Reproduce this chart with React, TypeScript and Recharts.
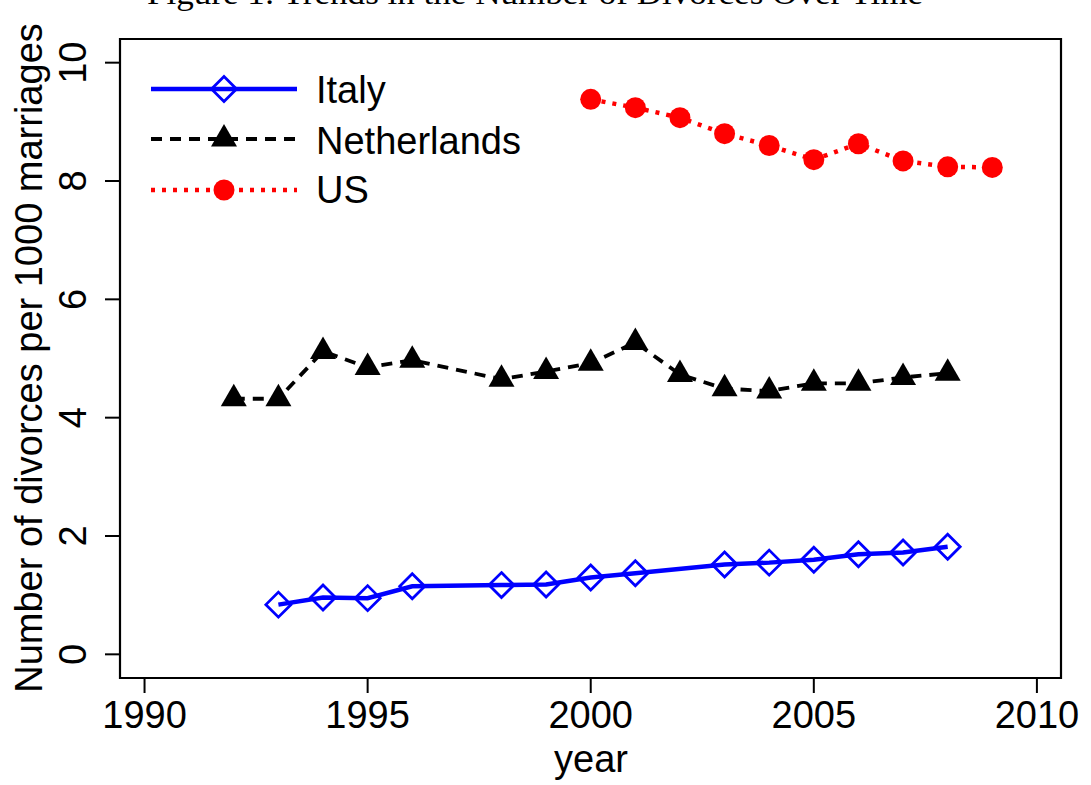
import React from "react"
import { Legend, Line, LineChart, ReferenceArea, XAxis, YAxis } from "recharts"

const years = [1992, 1993, 1994, 1995, 1996, 1997, 1998, 1999, 2000, 2001, 2002, 2003, 2004, 2005, 2006, 2007, 2008, 2009]
const italy = [null, 0.84, 0.96, 0.95, 1.15, null, 1.17, 1.18, 1.3, 1.37, null, 1.52, 1.55, 1.6, 1.69, 1.72, 1.82, null]
const netherlands = [4.32, 4.32, 5.12, 4.85, 4.97, null, 4.65, 4.78, 4.92, 5.27, 4.73, 4.49, 4.45, 4.58, 4.58, 4.68, 4.75, null]
const us = [null, null, null, null, null, null, null, null, 9.38, 9.24, 9.07, 8.8, 8.6, 8.36, 8.63, 8.34, 8.24, 8.23]

const xTicks = [1990, 1995, 2000, 2005, 2010]
const yTicks = [0, 2, 4, 6, 8, 10]

const chartData = years.map((year, i) => ({
  year,
  italy: italy[i],
  netherlands: netherlands[i],
  us: us[i],
}))

const X_DOMAIN = [1989.45, 2010.54]
const Y_DOMAIN = [-0.4, 10.4]

const SANS = "'Liberation Sans', Arial, Helvetica, sans-serif"
const SERIF = "'Liberation Serif', 'DejaVu Serif', serif"
const FS = 38

const BLUE = "#0000ff"
const RED = "#ff0000"

function diamond(cx: number, cy: number, key?: any) {
  const r = 12.5
  return (
    <path
      key={key}
      d={`M${cx},${cy - r}L${cx + r},${cy}L${cx},${cy + r}L${cx - r},${cy}Z`}
      fill="none"
      stroke={BLUE}
      strokeWidth={2.8}
    />
  )
}

function triangle(cx: number, cy: number, key?: any) {
  return (
    <path
      key={key}
      d={`M${cx},${cy - 15}L${cx + 13},${cy + 7.5}L${cx - 13},${cy + 7.5}Z`}
      fill="#000"
    />
  )
}

function circle(cx: number, cy: number, key?: any) {
  return <circle key={key} cx={cx} cy={cy} r={10.5} fill={RED} />
}

const makeDot = (shape: (cx: number, cy: number, key?: any) => React.ReactElement) => (props: any) => {
  const { cx, cy, index, value } = props
  if (value == null || cx == null || cy == null) return <g key={`e-${index}`} />
  return shape(cx, cy, `d-${index}`)
}

function YTick(props: any) {
  const { y, payload } = props
  return (
    <text
      x={86}
      y={y}
      transform={`rotate(-90 86 ${y})`}
      textAnchor="middle"
      fontSize={FS}
      fontFamily={SANS}
      fill="#000"
    >
      {payload.value}
    </text>
  )
}

function LegendBox() {
  const rows = [
    { label: "Italy", line: 29, base: 43, stroke: BLUE, dash: undefined, w: 4.5, mark: diamond },
    { label: "Netherlands", line: 79, base: 94, stroke: "#000", dash: "11 8", w: 3.8, mark: triangle },
    { label: "US", line: 130, base: 143, stroke: RED, dash: "4 7", w: 4.5, mark: circle },
  ]
  return (
    <svg width={420} height={160}>
      {rows.map((r) => (
        <g key={r.label}>
          <line x1={11} x2={157} y1={r.line} y2={r.line} stroke={r.stroke} strokeWidth={r.w} strokeDasharray={r.dash} />
          {r.mark(84, r.line)}
          <text x={176} y={r.base} fontSize={FS} fontFamily={SANS} fill="#000">
            {r.label}
          </text>
        </g>
      ))}
    </svg>
  )
}

export default function App() {
  return (
    <div style={{ position: "absolute", left: 0, top: 0, background: "#fff" }}>
      <LineChart width={1091} height={785} data={chartData} margin={{ top: 39, right: 30, bottom: 47, left: 60 }}>
        <XAxis
          dataKey="year"
          type="number"
          domain={X_DOMAIN}
          ticks={xTicks}
          allowDataOverflow
          height={60}
          tickSize={15}
          tickMargin={8}
          axisLine={false}
          tickLine={{ stroke: "#000", strokeWidth: 2 }}
          tick={{ fontSize: FS, fontFamily: SANS, fill: "#000" }}
          label={() => (
            <g>
              <text x={591} y={772} textAnchor="middle" fontSize={FS} fontFamily={SANS} fill="#000">
                year
              </text>
              <text
                x={535}
                y={4}
                textAnchor="middle"
                fontSize={32}
                fontFamily={SERIF}
                fill="#000"
                textLength={776}
                lengthAdjust="spacingAndGlyphs"
              >
                Figure 1: Trends in the Number of Divorces Over Time
              </text>
            </g>
          )}
        />
        <YAxis
          type="number"
          domain={Y_DOMAIN}
          ticks={yTicks}
          allowDataOverflow
          width={60}
          tickSize={15}
          axisLine={false}
          tickLine={{ stroke: "#000", strokeWidth: 2 }}
          tick={YTick}
          label={() => (
            <text
              x={42}
              y={358}
              transform="rotate(-90 42 358)"
              textAnchor="middle"
              fontSize={FS}
              fontFamily={SANS}
              fill="#000"
            >
              Number of divorces per 1000 marriages
            </text>
          )}
        />
        <ReferenceArea
          x1={X_DOMAIN[0]}
          x2={X_DOMAIN[1]}
          y1={Y_DOMAIN[0]}
          y2={Y_DOMAIN[1]}
          fill="none"
          fillOpacity={0}
          stroke="#000"
          strokeWidth={2.2}
          ifOverflow="visible"
        />
        <Legend
          layout="vertical"
          align="center"
          verticalAlign="middle"
          content={() => <LegendBox />}
          wrapperStyle={{ position: "absolute", left: 140, top: 60, width: 420, height: 160 }}
        />
        <Line
          dataKey="italy"
          stroke={BLUE}
          strokeWidth={4.5}
          connectNulls
          dot={makeDot(diamond)}
          activeDot={false}
          isAnimationActive={false}
        />
        <Line
          dataKey="netherlands"
          stroke="#000"
          strokeWidth={3.8}
          strokeDasharray="11 8"
          connectNulls
          dot={makeDot(triangle)}
          activeDot={false}
          isAnimationActive={false}
        />
        <Line
          dataKey="us"
          stroke={RED}
          strokeWidth={4.5}
          strokeDasharray="4 7"
          connectNulls
          dot={makeDot(circle)}
          activeDot={false}
          isAnimationActive={false}
        />
      </LineChart>
    </div>
  )
}
